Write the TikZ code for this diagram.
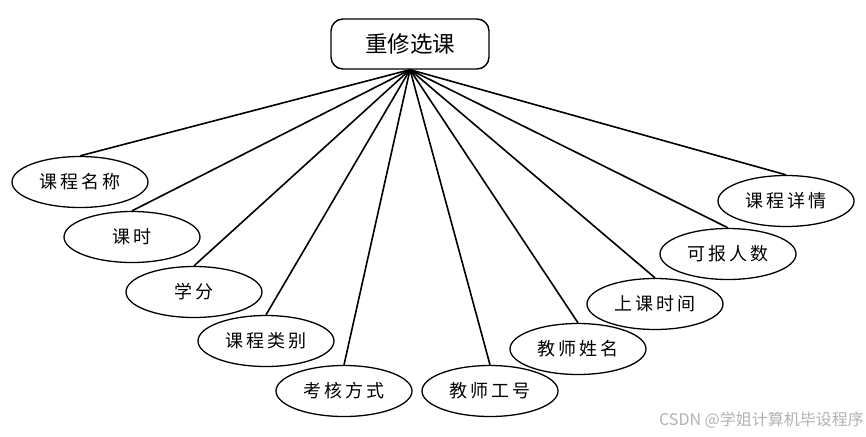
\documentclass[tikz,border=0pt]{standalone}
\usepackage{fontspec}
\newfontfamily\cjk{Noto Sans CJK SC}
\newfontfamily\cjkwide[LetterSpace=15]{Noto Sans CJK SC}
\usetikzlibrary{shapes.geometric}
\begin{document}
\begin{tikzpicture}[x=1pt,y=-1pt,
  attr/.style={ellipse,draw=black,line width=1.3pt,fill=white,minimum width=136pt,minimum height=51pt,inner sep=0pt,font=\cjkwide\fontsize{18}{18}\selectfont},
  ent/.style={rectangle,rounded corners=12pt,draw=black,line width=1.4pt,fill=white,minimum width=158pt,minimum height=50pt,font=\cjk\fontsize{22.5}{22.5}\selectfont},
  link/.style={line width=1.6pt,black}]
\useasboundingbox (0,0) rectangle (866,436);
\node[ent] (top) at (410,44) {重修选课};
\node[attr] (a1) at (80,182) {课程名称};
\node[attr] (a2) at (132,237) {课时};
\node[attr] (a3) at (194,292) {学分};
\node[attr] (a4) at (266,341) {课程类别};
\node[attr] (a5) at (344,391) {考核方式};
\node[attr] (a6) at (490,391) {教师工号};
\node[attr] (a7) at (578,349) {教师姓名};
\node[attr] (a8) at (655,304) {上课时间};
\node[attr] (a9) at (728,254) {可报人数};
\node[attr] (a10) at (786,201) {课程详情};
\foreach \n in {a1,a2,a3,a4,a5,a6,a7,a8,a9,a10}{
  \draw[link] (top.south) -- (\n.north);
}
\node[anchor=east,text=black!30,font=\cjk\fontsize{16}{16}\selectfont,inner sep=0pt] (wm) at (864,420) {CSDN @学姐计算机毕设程序};
\end{tikzpicture}
\end{document}
